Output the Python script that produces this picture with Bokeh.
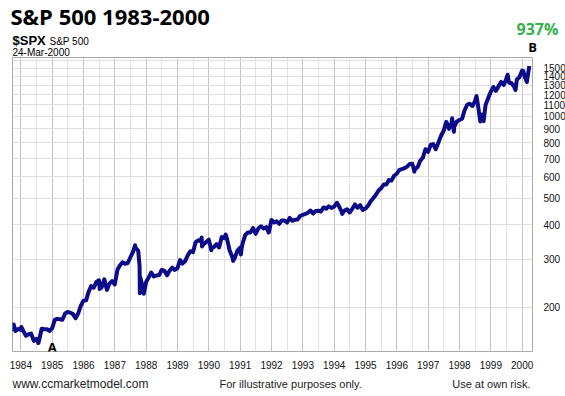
import pandas as pd
from bokeh.plotting import figure
from bokeh.layouts import column
from bokeh.models import FixedTicker, Grid, Range1d, NumeralTickFormatter
from bokeh.core.properties import value
from bokeh.embed import file_html
from bokeh.resources import INLINE

# ---------------- data ----------------
years = list(range(1984, 2001))
ytick_values = [200, 300, 400, 500, 600, 700, 800, 900, 1000, 1100, 1200, 1300, 1400, 1500]
ygrid_values = ytick_values + [1600]

# month-end closes of the S&P 500
close_1983 = [166.07, 163.55, 166.40, 164.93]  # Sep-Dec
close_1984 = [163.41, 157.06, 159.18, 160.05, 150.55, 153.18, 150.66, 166.68, 166.10, 166.09, 163.58, 167.24]
close_1985 = [179.63, 181.18, 180.66, 179.83, 189.55, 191.85, 190.92, 188.63, 182.08, 189.82, 202.17, 211.28]
close_1986 = [211.78, 226.92, 238.90, 235.52, 247.35, 250.84, 236.12, 252.93, 231.32, 243.98, 249.22, 242.17]
close_1987 = [274.08, 284.20, 291.70, 288.36, 290.10, 304.00, 318.66, 329.80, 321.83, 251.79, 230.30, 247.08]
close_1988 = [257.07, 267.82, 258.89, 261.33, 262.16, 273.50, 272.02, 261.52, 271.91, 278.97, 273.70, 277.72]
close_1989 = [297.47, 288.86, 294.87, 309.64, 320.52, 317.98, 346.08, 351.45, 349.15, 340.36, 345.99, 353.40]
close_1990 = [329.08, 331.89, 339.94, 330.80, 361.23, 358.02, 356.15, 322.56, 306.05, 304.00, 322.22, 330.22]
close_1991 = [343.93, 367.07, 375.22, 375.35, 389.83, 371.16, 387.81, 395.43, 387.86, 392.46, 375.22, 417.09]
close_1992 = [408.79, 412.70, 403.69, 414.95, 415.35, 408.14, 424.21, 414.03, 417.80, 418.68, 431.35, 435.71]
close_1993 = [438.78, 443.38, 451.67, 440.19, 450.19, 450.53, 448.13, 463.56, 458.93, 467.83, 461.79, 466.45]
close_1994 = [481.61, 467.14, 445.77, 450.91, 456.50, 444.27, 458.26, 475.49, 462.69, 472.35, 453.69, 459.27]
close_1995 = [470.42, 487.39, 500.71, 514.71, 533.40, 544.75, 562.06, 561.88, 584.41, 581.50, 605.37, 615.93]
close_1996 = [636.02, 640.43, 645.50, 654.17, 669.12, 670.63, 639.95, 651.99, 687.31, 705.27, 757.02, 740.74]
close_1997 = [786.16, 790.82, 757.12, 801.34, 848.28, 885.14, 954.29, 899.47, 947.28, 914.62, 955.40, 970.43]
close_1998 = [980.28, 1049.34, 1101.75, 1111.75, 1090.82, 1133.84, 1120.67, 957.28, 1017.01, 1098.67, 1163.63, 1229.23]
close_1999 = [1279.64, 1238.33, 1286.37, 1335.18, 1301.84, 1372.71, 1328.72, 1320.41, 1282.71, 1362.93, 1388.91, 1469.25]
close_2000 = [1394.46, 1366.42]  # Jan-Feb

# intramonth turning points
turn_dates = ["1983-09-26", "1983-10-10", "1984-01-06", "1984-07-24", "1986-07-08",
              "1987-08-25", "1987-10-16", "1987-10-19", "1987-10-20", "1987-10-21", "1987-12-04",
              "1989-10-09", "1989-10-13", "1990-01-30", "1990-07-16", "1990-10-11",
              "1991-01-09", "1991-01-17", "1994-02-02", "1994-04-04", "1996-07-23",
              "1997-10-07", "1997-10-27", "1998-07-17", "1998-10-08", "1999-07-16",
              "1999-10-15", "2000-01-14", "2000-02-25", "2000-03-24"]
turn_values = [169.0, 172.65, 169.28, 147.82, 233.0,
               336.77, 282.70, 224.84, 236.83, 258.38, 223.92,
               359.80, 333.65, 322.98, 368.95, 295.46,
               311.49, 327.97, 482.00, 438.92, 626.87,
               983.12, 876.99, 1186.75, 959.44, 1418.78,
               1247.41, 1465.15, 1333.36, 1527.46]

# ---------------- assemble series ----------------
rows = []
monthly = {1983: (9, close_1983), 1984: (1, close_1984), 1985: (1, close_1985), 1986: (1, close_1986),
           1987: (1, close_1987), 1988: (1, close_1988), 1989: (1, close_1989), 1990: (1, close_1990),
           1991: (1, close_1991), 1992: (1, close_1992), 1993: (1, close_1993), 1994: (1, close_1994),
           1995: (1, close_1995), 1996: (1, close_1996), 1997: (1, close_1997), 1998: (1, close_1998),
           1999: (1, close_1999), 2000: (1, close_2000)}
for yr, (m0, vals) in monthly.items():
    for i, v in enumerate(vals):
        d = pd.Timestamp(yr, m0 + i, 1) + pd.offsets.MonthEnd(0)
        rows.append((d, v))
for d, v in zip(turn_dates, turn_values):
    rows.append((pd.Timestamp(d), v))
df = pd.DataFrame(rows, columns=["date", "value"]).sort_values("date").drop_duplicates("date")


def dec_year(d):
    start = pd.Timestamp(d.year, 1, 1)
    length = (pd.Timestamp(d.year + 1, 1, 1) - start).days
    return d.year + (d - start).days / length


df["x"] = [dec_year(d) for d in df["date"]]

W = 565


def text_panel(h):
    f = figure(frame_width=W, frame_height=h, x_range=Range1d(0, W), y_range=Range1d(0, h),
               title=None, x_axis_location=None, y_axis_location=None,
               output_backend="svg", toolbar_location=None, frame_align=False,
               min_border=0, min_border_left=0, min_border_right=0, min_border_top=0, min_border_bottom=0)
    f.grid.visible = False
    f.outline_line_color = None
    f.background_fill_color = "white"
    f.border_fill_color = "white"
    return f


def txt(f, x, y, t, size, bold=False, color="#000000", font="Liberation Sans", align="left"):
    f.text(x=[x], y=[y], text=[t], text_font=value(font), text_font_size=size,
           text_font_style="bold" if bold else "normal", text_color=color,
           text_align=align, text_baseline="alphabetic")


# ---------------- header ----------------
top = text_panel(57)
txt(top, 10, 42, "S&P 500 1983-2000", "22px", bold=True, font="Open Sans")
txt(top, 12, 17, "$SPX", "13px", bold=True)
txt(top, 49, 16, "S&P 500", "10px")
txt(top, 12, 5, "24-Mar-2000", "10px")
txt(top, 516, 29, "937%", "16px", bold=True, color="#35b04a", font="Open Sans")
txt(top, 532, 11, "B", "13px", bold=True, align="center", font="Open Sans")

# ---------------- main chart ----------------
p = figure(frame_width=520, frame_height=294, y_axis_type="log", y_axis_location="right",
           x_range=Range1d(1983.733, 2000.329), y_range=Range1d(137.6, 1641),
           title=None, output_backend="svg", toolbar_location=None, frame_align=False,
           min_border_left=12, min_border_right=33, min_border_top=0, min_border_bottom=20)
p.background_fill_color = "white"
p.border_fill_color = "white"
p.outline_line_color = "#a8a8a8"
p.outline_line_width = 1

p.xaxis.ticker = FixedTicker(ticks=years)
p.xaxis.formatter = NumeralTickFormatter(format="0")
p.yaxis.ticker = FixedTicker(ticks=ytick_values)
p.yaxis.formatter = NumeralTickFormatter(format="0")
for ax in (p.xaxis[0], p.yaxis[0]):
    ax.axis_line_color = None
    ax.major_tick_line_color = None
    ax.minor_tick_line_color = None
    ax.major_label_text_font = "Liberation Sans"
    ax.major_label_text_font_size = "10px"
    ax.major_label_text_color = "#111111"
p.xaxis.major_label_standoff = 3
p.yaxis.major_label_standoff = 5

p.xgrid.ticker = FixedTicker(ticks=years)
p.xgrid.grid_line_color = "#c4c4c4"
p.ygrid.ticker = FixedTicker(ticks=ygrid_values)
p.ygrid.grid_line_color = "#dedede"
half_grid = Grid(dimension=0, ticker=FixedTicker(ticks=[y + 0.5 for y in range(1983, 2000)]),
                 grid_line_color="#e2e2e2")
p.add_layout(half_grid)

p.line(df["x"], df["value"], line_width=4, line_color="#0c0c8a", line_join="round")
p.text(x=[1985.0], y=[143.5], text=["A"], text_font=value("Open Sans"), text_font_size="13px",
       text_font_style="bold", text_color="#000000", text_align="center", text_baseline="alphabetic")

# ---------------- footer ----------------
bottom = text_panel(24)
txt(bottom, 12, 12, "www.ccmarketmodel.com", "12px", color="#222222")
txt(bottom, 219, 12, "For illustrative purposes only.", "11px", color="#222222")
txt(bottom, 530, 12, "Use at own risk.", "11px", color="#222222", align="right")

layout = column(top, p, bottom, spacing=0)
open("out.html", "w").write(file_html(layout, INLINE))
